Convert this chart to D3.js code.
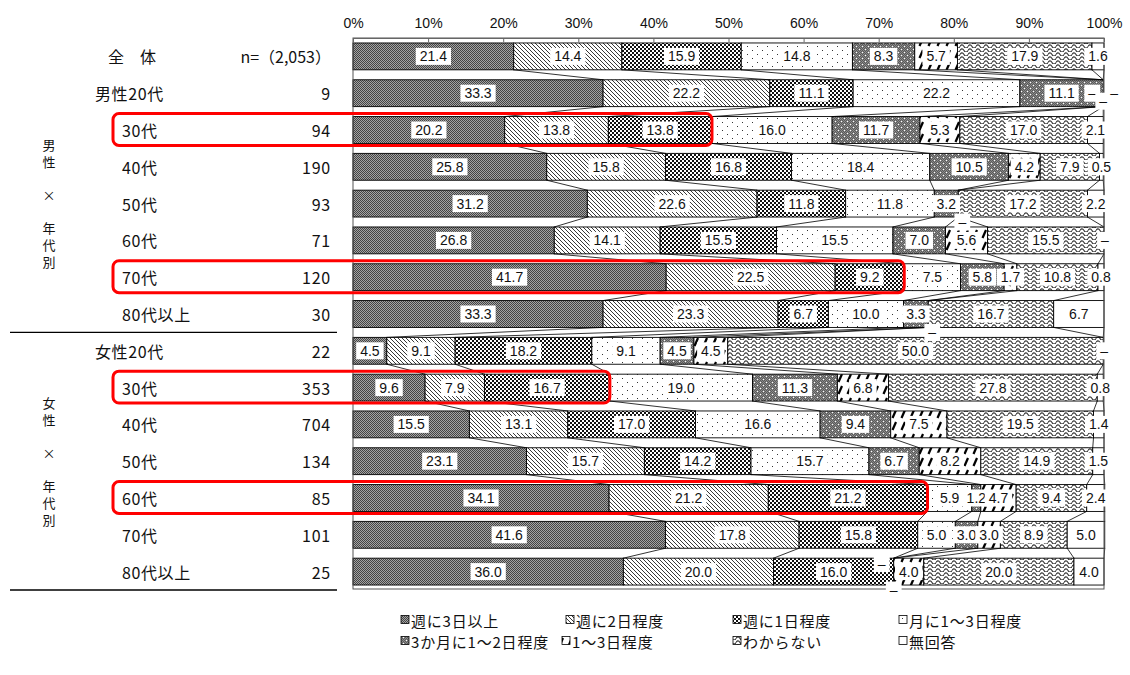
<!DOCTYPE html>
<html lang="ja">
<head>
<meta charset="utf-8">
<script src="https://cdn.jsdelivr.net/npm/d3@7"></script>
<style>
  html, body { margin: 0; padding: 0; background: #fff; }
  svg { display: block; }
  .jp { font-family: "Noto Sans CJK JP", "Noto Sans", sans-serif; }
  .num { font-family: "Liberation Sans", Arial, sans-serif; }
</style>
</head>
<body>
<svg id="chart" width="1130" height="675"></svg>
<script>
// ---- data ----
const categories = ["週に3日以上", "週に2日程度", "週に1日程度", "月に1～3日程度",
                    "3か月に1～2日程度", "1～3日程度", "わからない", "無回答"];

const rowLabels = ["全　体", "男性20代", "30代", "40代", "50代", "60代", "70代", "80代以上",
                   "女性20代", "30代", "40代", "50代", "60代", "70代", "80代以上"];
const rowCounts = ["n=（2,053）", "9", "94", "190", "93", "71", "120", "30",
                   "22", "353", "704", "134", "85", "101", "25"];

const weekly3   = [21.4, 33.3, 20.2, 25.8, 31.2, 26.8, 41.7, 33.3, 4.5, 9.6, 15.5, 23.1, 34.1, 41.6, 36.0];
const weekly2   = [14.4, 22.2, 13.8, 15.8, 22.6, 14.1, 22.5, 23.3, 9.1, 7.9, 13.1, 15.7, 21.2, 17.8, 20.0];
const weekly1   = [15.9, 11.1, 13.8, 16.8, 11.8, 15.5, 9.2, 6.7, 18.2, 16.7, 17.0, 14.2, 21.2, 15.8, 16.0];
const monthly   = [14.8, 22.2, 16.0, 18.4, 11.8, 15.5, 7.5, 10.0, 9.1, 19.0, 16.6, 15.7, 5.9, 5.0, 0];
const quarterly = [8.3, 11.1, 11.7, 10.5, 3.2, 7.0, 5.8, 3.3, 4.5, 11.3, 9.4, 6.7, 1.2, 3.0, 0];
const yearly    = [5.7, 0, 5.3, 4.2, 0, 5.6, 1.7, 0, 4.5, 6.8, 7.5, 8.2, 4.7, 3.0, 4.0];
const unknown   = [17.9, 0, 17.0, 7.9, 17.2, 15.5, 10.8, 16.7, 50.0, 27.8, 19.5, 14.9, 9.4, 8.9, 20.0];
const noAnswer  = [1.6, 0, 2.1, 0.5, 2.2, 0, 0.8, 6.7, 0, 0.8, 1.4, 1.5, 2.4, 5.0, 4.0];

const series = [weekly3, weekly2, weekly1, monthly, quarterly, yearly, unknown, noAnswer];

// rows outlined in red (men 30s, men 70s, women 30s, women 60s)
const highlightRows = [2, 6, 9, 12];

const sideGroups = [
  { chars: ["男", "性", "×", "年", "代", "別"], rows: [1, 7] },
  { chars: ["女", "性", "×", "年", "代", "別"], rows: [8, 14] }
];

const xTicks = [0, 10, 20, 30, 40, 50, 60, 70, 80, 90, 100];

// ---- setup ----
const svg = d3.select("#chart");
const plot = { left: 353, right: 1104, top: 38, bottom: 589 };

const table = rowLabels.map((label, i) => {
  const o = { row: i, label };
  categories.forEach((c, j) => { o[c] = series[j][i]; });
  return o;
});

const x = d3.scaleLinear().domain([0, 100]).range([plot.left, plot.right]);
const y = d3.scaleBand().domain(d3.range(rowLabels.length))
  .range([plot.top, plot.bottom + 1]).paddingInner(0.27).paddingOuter(0.135);
const bw = y.bandwidth();

const stacked = d3.stack().keys(categories)(table);

// ---- fill patterns ----
const defs = svg.append("defs");
function pat(id, w, h, build) {
  const p = defs.append("pattern").attr("id", id)
    .attr("patternUnits", "userSpaceOnUse").attr("width", w).attr("height", h);
  build(p);
}
// fine dark grey stipple
pat("p0", 2, 2, p => {
  p.append("rect").attr("width", 2).attr("height", 2).attr("fill", "#a4a4a4");
  p.append("rect").attr("x", 0).attr("y", 0).attr("width", 1).attr("height", 1).attr("fill", "#444");
  p.append("rect").attr("x", 1).attr("y", 1).attr("width", 1).attr("height", 1).attr("fill", "#444");
});
// diagonal hatch
pat("p1", 4, 4, p => {
  p.append("rect").attr("width", 4).attr("height", 4).attr("fill", "#fff");
  p.append("path").attr("d", "M0,0L4,4M-1,3L1,5M3,-1L5,1")
    .attr("stroke", "#222").attr("stroke-width", 0.9);
});
// checkerboard
pat("p2", 4, 4, p => {
  p.append("rect").attr("width", 4).attr("height", 4).attr("fill", "#fff");
  p.append("rect").attr("width", 2).attr("height", 2).attr("fill", "#111");
  p.append("rect").attr("x", 2).attr("y", 2).attr("width", 2).attr("height", 2).attr("fill", "#111");
});
// sparse dots
pat("p3", 10, 8, p => {
  p.append("rect").attr("width", 10).attr("height", 8).attr("fill", "#fff");
  p.append("rect").attr("x", 2).attr("y", 2).attr("width", 1).attr("height", 1).attr("fill", "#333");
  p.append("rect").attr("x", 7).attr("y", 6).attr("width", 1).attr("height", 1).attr("fill", "#333");
});
// grey with white specks
pat("p4", 6, 6, p => {
  p.append("rect").attr("width", 6).attr("height", 6).attr("fill", "#8a8a8a");
  [[0,0],[2,0],[4,0],[1,1],[3,1],[5,1],[0,2],[2,2],[4,2],[1,3],[3,3],[5,3],[0,4],[2,4],[4,4],[1,5],[3,5],[5,5]]
    .forEach(([a, b]) => p.append("rect").attr("x", a).attr("y", b).attr("width", 1).attr("height", 1).attr("fill", "#5a5a5a"));
  p.append("rect").attr("x", 1).attr("y", 1).attr("width", 1).attr("height", 1).attr("fill", "#fff");
  p.append("rect").attr("x", 4).attr("y", 4).attr("width", 1).attr("height", 1).attr("fill", "#fff");
});
// bold dashed slashes
pat("p5", 9, 12, p => {
  p.append("rect").attr("width", 9).attr("height", 12).attr("fill", "#fff");
  p.append("path").attr("d", "M1.5,10L5,2").attr("stroke", "#000").attr("stroke-width", 2.2);
});
// waves
pat("p6", 8, 4, p => {
  p.append("rect").attr("width", 8).attr("height", 4).attr("fill", "#fff");
  p.append("path").attr("d", "M0,2.5C1.3,0.3 2.7,0.3 4,2.5C5.3,4.7 6.7,4.7 8,2.5")
    .attr("fill", "none").attr("stroke", "#333").attr("stroke-width", 1.1);
});
// plain white
pat("p7", 4, 4, p => {
  p.append("rect").attr("width", 4).attr("height", 4).attr("fill", "#fff");
});
const fillOf = j => `url(#p${j})`;

// ---- bars ----
const gBars = svg.append("g");
stacked.forEach((layer, j) => {
  gBars.append("g").selectAll("rect").data(layer.filter(d => d[1] - d[0] > 0)).join("rect")
    .attr("x", d => x(d[0]))
    .attr("y", d => y(d.data.row))
    .attr("width", d => x(d[1]) - x(d[0]))
    .attr("height", bw)
    .attr("fill", fillOf(j))
    .attr("stroke", "#000").attr("stroke-width", 0.9);
});

// ---- series lines between bars ----
const gLines = svg.append("g").attr("stroke", "#000").attr("stroke-width", 0.8);
stacked.forEach(layer => {
  for (let i = 0; i < layer.length - 1; i++) {
    gLines.append("line")
      .attr("x1", x(layer[i][1])).attr("y1", y(i) + bw)
      .attr("x2", x(layer[i + 1][1])).attr("y2", y(i + 1));
  }
});

// ---- plot frame and top axis ----
svg.append("rect").attr("x", plot.left).attr("y", plot.top)
  .attr("width", plot.right - plot.left).attr("height", plot.bottom - plot.top)
  .attr("fill", "none").attr("stroke", "#555").attr("stroke-width", 1);
const axisTop = d3.axisTop(x).tickValues(xTicks).tickFormat(d => d + "%").tickSizeInner(-4).tickSizeOuter(0).tickPadding(10);
const gAxis = svg.append("g").attr("transform", `translate(0,${plot.top})`).call(axisTop);
gAxis.select(".domain").attr("stroke", "#666");
gAxis.selectAll(".tick line").attr("stroke", "#666");
gAxis.selectAll("text").attr("class", "num").attr("font-size", 14).attr("fill", "#111")
  .attr("font-family", "Liberation Sans, Arial, sans-serif");

// ---- value labels ----
const gLab = svg.append("g").attr("class", "num");
function label(cx, cy, text) {
  const g = gLab.append("g");
  const t = g.append("text").attr("x", cx).attr("y", cy).attr("text-anchor", "middle")
    .attr("dominant-baseline", "central").attr("font-size", 14).attr("fill", "#111").text(text);
  const w = t.node().getComputedTextLength();
  g.insert("rect", "text").attr("x", cx - w / 2 - 4).attr("y", cy - 8.5)
    .attr("width", w + 8).attr("height", 17).attr("fill", "#fff");
}
table.forEach((row, i) => {
  const cy = y(i) + bw / 2;
  // zero values are marked with a dash, spread out around their shared boundary
  const zeroGroups = d3.groups(
    stacked.map((layer, j) => ({ j, v: layer[i][1], d: layer[i][1] - layer[i][0] })).filter(o => o.d === 0),
    o => o.v.toFixed(2));
  zeroGroups.forEach(([, items]) => {
    const atEnd = items[0].v >= 99.9;
    const n = items.length;
    let offs;
    if (n === 1) offs = atEnd ? [[1, 0]] : [[4, bw / 2 + 5]];
    else if (n === 2) offs = [[-12, -8], [0, bw / 2 + 5]];
    else offs = [[-11, 0], [0, 8], [11, 0]];
    items.forEach((o, k) => label(x(o.v) + offs[k][0], cy + offs[k][1], "–"));
  });
  stacked.forEach(layer => {
    const d = layer[i];
    if (d[1] - d[0] > 0) label(x((d[0] + d[1]) / 2), cy, (d[1] - d[0]).toFixed(1));
  });
});

// ---- red outlines on highlighted rows ----
highlightRows.forEach(i => {
  const right = x(stacked[2][i][1]);
  svg.append("rect").attr("x", 113).attr("y", y(i) - 3)
    .attr("width", right - 113).attr("height", bw + 5)
    .attr("rx", 6).attr("fill", "none").attr("stroke", "#f00").attr("stroke-width", 3);
});

// ---- left table ----
const gTab = svg.append("g").attr("class", "jp").attr("font-size", 16).attr("fill", "#111");
rowLabels.forEach((lab, i) => {
  const cy = y(i) + bw / 2;
  const lx = i === 0 ? 108 : (lab.includes("性") ? 95 : 122);
  gTab.append("text").attr("x", lx).attr("y", cy).attr("dominant-baseline", "central")
    .attr("letter-spacing", i === 0 ? 0 : 0.6).text(lab);
  gTab.append("text").attr("x", 331).attr("y", cy).attr("dominant-baseline", "central")
    .attr("text-anchor", "end").attr("letter-spacing", i === 0 ? 0 : 0.8).text(rowCounts[i]);
});
sideGroups.forEach(g => {
  const mid = (y(g.rows[0]) + y(g.rows[1]) + bw) / 2;
  const steps = [-59, -42, -9, 24, 41, 58];
  g.chars.forEach((c, k) => {
    gTab.append("text").attr("x", 49).attr("y", mid + steps[k]).attr("text-anchor", "middle")
      .attr("dominant-baseline", "central").attr("font-size", 13).text(c);
  });
});
// group separators
[7, 14].forEach(i => {
  const yy = i === 14 ? plot.bottom + 1 : (y(i) + bw + y(i + 1)) / 2;
  svg.append("line").attr("x1", 10).attr("x2", 337).attr("y1", yy).attr("y2", yy)
    .attr("stroke", "#000").attr("stroke-width", 1.3);
});

// ---- legend ----
const legendPos = [[401, 620], [566, 620], [733, 620], [899, 620],
                   [401, 641], [562, 641], [733, 641], [899, 641]];
const gLeg = svg.append("g").attr("class", "jp").attr("font-size", 15).attr("fill", "#111");
categories.forEach((c, j) => {
  const [lx, ly] = legendPos[j];
  gLeg.append("rect").attr("x", lx).attr("y", ly - 4.5).attr("width", 8).attr("height", 8)
    .attr("fill", fillOf(j)).attr("stroke", "#000").attr("stroke-width", 0.8);
  gLeg.append("text").attr("x", lx + 10).attr("y", ly).attr("dominant-baseline", "central")
    .attr("letter-spacing", 0.8).text(c);
});
</script>
</body>
</html>
